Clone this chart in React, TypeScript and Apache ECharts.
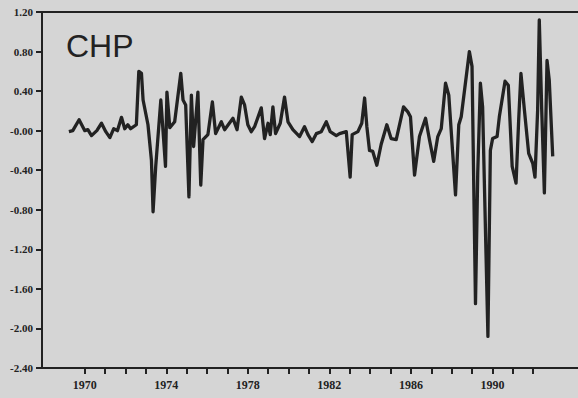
import React, { useEffect, useRef } from "react";
import * as echarts from "echarts";

const years: number[] = [
  1969.22, 1969.41, 1969.72, 1970.0, 1970.15, 1970.33, 1970.59, 1970.82, 1971.03, 1971.23,
  1971.42, 1971.6, 1971.8, 1971.96, 1972.11, 1972.25, 1972.53, 1972.65, 1972.78, 1972.86,
  1973.1, 1973.27, 1973.35, 1973.48, 1973.73, 1973.81, 1973.96, 1974.03, 1974.17, 1974.41,
  1974.71, 1974.82, 1974.95, 1975.11, 1975.23, 1975.34, 1975.55, 1975.69, 1975.8, 1976.04,
  1976.26, 1976.42, 1976.7, 1976.86, 1977.27, 1977.47, 1977.68, 1977.84, 1978.0, 1978.17,
  1978.33, 1978.66, 1978.82, 1978.99, 1979.1, 1979.23, 1979.36, 1979.59, 1979.8, 1979.97,
  1980.21, 1980.54, 1980.78, 1980.95, 1981.16, 1981.36, 1981.6, 1981.85, 1982.04, 1982.34,
  1982.5, 1982.83, 1983.02, 1983.12, 1983.4, 1983.59, 1983.73, 1983.84, 1983.97, 1984.13,
  1984.33, 1984.54, 1984.82, 1985.03, 1985.28, 1985.64, 1985.85, 1985.98, 1986.18, 1986.42,
  1986.72, 1986.91, 1987.12, 1987.32, 1987.49, 1987.7, 1987.86, 1988.19, 1988.35, 1988.47,
  1988.87, 1989.0, 1989.17, 1989.28, 1989.41, 1989.52, 1989.78, 1989.9, 1990.01, 1990.23,
  1990.34, 1990.62, 1990.78, 1990.97, 1991.16, 1991.29, 1991.4, 1991.57, 1991.78, 1991.98,
  1992.09, 1992.22, 1992.3, 1992.42, 1992.55, 1992.68, 1992.79, 1992.96,
];

const chp: number[] = [
  -0.01, 0.0, 0.11, -0.0, 0.01, -0.05, 0.0, 0.075, -0.01, -0.07,
  0.02, 0.0, 0.135, 0.02, 0.06, 0.02, 0.06, 0.6, 0.58, 0.31,
  0.06, -0.3, -0.82, -0.36, 0.31, 0.08, -0.36, 0.39, 0.03, 0.09,
  0.58, 0.31, 0.26, -0.67, 0.36, -0.16, 0.39, -0.55, -0.09, -0.04,
  0.29, -0.03, 0.09, 0.01, 0.125, 0.01, 0.34, 0.26, 0.06, -0.01,
  0.04, 0.23, -0.08, 0.075, -0.04, 0.24, -0.03, 0.075, 0.34, 0.09,
  0.01, -0.06, 0.04, -0.04, -0.11, -0.03, -0.01, 0.09, -0.01, -0.05,
  -0.03, -0.01, -0.47, -0.04, -0.01, 0.075, 0.33, 0.04, -0.2, -0.21,
  -0.35, -0.14, 0.06, -0.08, -0.09, 0.24, 0.19, 0.14, -0.45, -0.06,
  0.125, -0.09, -0.31, -0.06, 0.02, 0.48, 0.36, -0.65, 0.06, 0.14,
  0.8, 0.65, -1.75, -0.43, 0.48, 0.24, -2.08, -0.2, -0.08, -0.06,
  0.14, 0.5, 0.46, -0.36, -0.53, 0.11, 0.58, 0.21, -0.23, -0.33,
  -0.47, 0.21, 1.12, 0.21, -0.63, 0.71, 0.51, -0.26,
];

const xTickYears: number[] = [
  1970, 1971, 1972, 1973, 1974, 1975, 1976, 1977, 1978, 1979, 1980, 1981,
  1982, 1983, 1984, 1985, 1986, 1987, 1988, 1989, 1990, 1991, 1992,
];
const xLabelYears: number[] = [1970, 1974, 1978, 1982, 1986, 1990];

const ink = "#222222";

export default function App() {
  const ref = useRef<HTMLDivElement>(null);
  useEffect(() => {
    document.body.style.margin = "0";
    const chart = echarts.init(ref.current!, undefined, { renderer: "svg" });
    const labelFont = {
      fontFamily: "'Liberation Serif', 'DejaVu Serif', serif",
      fontWeight: "bold" as const,
      color: ink,
    };
    chart.setOption({
      animation: false,
      backgroundColor: "#d5d5d5",
      grid: { left: 42, top: 12, right: 0, bottom: 30, containLabel: false },
      xAxis: [
        {
          type: "value",
          min: 1967.9,
          max: 1994.2,
          splitLine: { show: false },
          axisLine: { show: true, onZero: false, lineStyle: { color: ink, width: 2 } },
          axisTick: {
            show: true,
            customValues: xTickYears,
            length: 6,
            lineStyle: { color: ink, width: 2 },
          },
          axisLabel: {
            show: true,
            customValues: xLabelYears,
            margin: 11,
            formatter: (v: number) => String(v),
            ...labelFont,
            fontSize: 12,
          },
        },
        {
          type: "value",
          position: "top",
          min: 1967.9,
          max: 1994.2,
          splitLine: { show: false },
          axisLine: { show: true, onZero: false, lineStyle: { color: ink, width: 2 } },
          axisTick: { show: false },
          axisLabel: { show: false },
        },
      ],
      yAxis: {
        type: "value",
        min: -2.4,
        max: 1.2,
        interval: 0.4,
        splitLine: { show: false },
        axisLine: { show: true, onZero: false, lineStyle: { color: ink, width: 2 } },
        axisTick: { show: true, length: 6, lineStyle: { color: ink, width: 2 } },
        axisLabel: {
          margin: 9,
          formatter: (v: number) => (Math.abs(v) < 1e-9 ? "-0.00" : v.toFixed(2)),
          ...labelFont,
          fontSize: 11,
        },
      },
      graphic: [
        {
          type: "text",
          left: 66,
          top: 30,
          style: {
            text: "CHP",
            font: "32px 'Liberation Sans', Arial, sans-serif",
            fill: ink,
          },
        },
      ],
      series: [
        {
          type: "line",
          xAxisIndex: 0,
          data: years.map((y, i) => [y, chp[i]]),
          showSymbol: false,
          symbol: "none",
          lineStyle: { color: ink, width: 3.3, join: "round" },
        },
      ],
    });
    return () => chart.dispose();
  }, []);
  return (
    <div
      ref={ref}
      style={{ position: "fixed", left: 0, top: 0, width: 578, height: 398, background: "#d5d5d5" }}
    />
  );
}
